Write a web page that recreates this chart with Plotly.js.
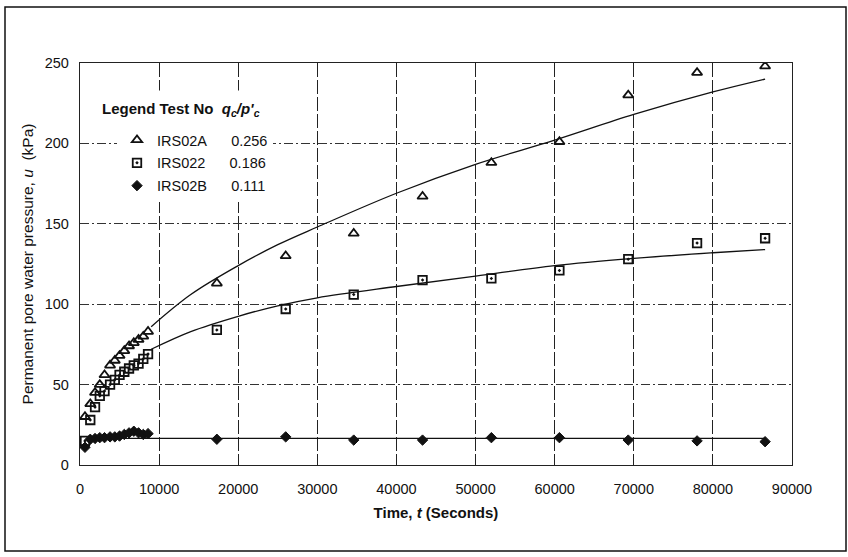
<!DOCTYPE html>
<html>
<head>
<meta charset="utf-8">
<script src="https://cdn.plot.ly/plotly-3.0.1.min.js"></script>
<style>
  html, body { margin: 0; padding: 0; background: #fff; }
  #chart { width: 848px; height: 557px; }
</style>
</head>
<body>
<div id="chart"></div>
<script>
// ---- Data ----
// Measurement times (seconds)
var timeEarly = [630, 1300, 1900, 2500, 3100, 3800, 4400, 5000, 5600, 6200, 6800, 7400, 8000, 8600];
var timeLate  = [17300, 26000, 34600, 43300, 52000, 60600, 69300, 78000, 86600];

// IRS02A (q_c/p'_c = 0.256)
var irs02aEarly = [30, 38, 45, 50, 56, 62, 65, 68, 71, 74, 76, 78, 80, 83];
var irs02aLate  = [113, 130, 144, 167, 188, 201, 230, 244, 248];

// IRS022 (q_c/p'_c = 0.186)
var irs022Early = [15, 28, 36, 43, 46, 50, 53, 56, 58, 60, 62, 63, 66, 69];
var irs022Late  = [84, 97, 106, 115, 116, 121, 128, 138, 141];

// IRS02B (q_c/p'_c = 0.111)
var irs02bEarly = [11, 16, 16.5, 17, 17, 17.5, 17.5, 18, 19, 20, 21, 20, 19, 19.5];
var irs02bLate  = [16, 17.5, 15.5, 15.5, 17, 17, 15.5, 15, 14.5];

// Trend lines
var fitTime   = [9000, 14000, 20000, 25000, 30000, 40000, 50000, 60000, 70000, 80000, 86600];
var fitIrs02a = [86, 106, 124, 137, 148, 169, 187, 202, 218, 232, 240];
var fitIrs022 = [72, 83, 92.5, 99, 104, 111, 117.5, 124, 128.5, 132, 134];
var fitTimeB  = [1000, 86600];
var fitIrs02b = [16.5, 16.5];

var seriesNames = ["IRS02A", "IRS022", "IRS02B"];
var ratioLabels = ["0.256", "0.186", "0.111"];

var xTicks = [0, 10000, 20000, 30000, 40000, 50000, 60000, 70000, 80000, 90000];
var yTicks = [0, 50, 100, 150, 200, 250];

// ---- Build traces ----
var NB = "\u00a0";
function pad(n) { return new Array(n + 1).join(NB); }

var allTime = timeEarly.concat(timeLate);
var FONT = "Liberation Sans, Arial, sans-serif";

var traces = [
  { x: fitTime, y: fitIrs02a, mode: "lines", line: {color: "#111", width: 1.3, shape: "spline"}, showlegend: false, hoverinfo: "skip" },
  { x: fitTime, y: fitIrs022, mode: "lines", line: {color: "#111", width: 1.3, shape: "spline"}, showlegend: false, hoverinfo: "skip" },
  { x: fitTimeB, y: fitIrs02b, mode: "lines", line: {color: "#111", width: 1.3}, showlegend: false, hoverinfo: "skip" },
  { x: allTime, y: irs02aEarly.concat(irs02aLate), mode: "markers", name: seriesNames[0] + pad(6) + ratioLabels[0], legendgroup: "a",
    marker: {symbol: "triangle-up-open", size: 9, color: "#111", line: {width: 1.8, color: "#111"}} },
  { x: allTime, y: irs022Early.concat(irs022Late), mode: "markers", name: seriesNames[1] + pad(6) + ratioLabels[1], legendgroup: "b",
    marker: {symbol: "square-open-dot", size: 8.5, color: "#111", line: {width: 1.8, color: "#111"}} },
  { x: allTime, y: irs02bEarly.concat(irs02bLate), mode: "markers", name: seriesNames[2] + pad(6) + ratioLabels[2], legendgroup: "c",
    marker: {symbol: "diamond", size: 8, color: "#111", line: {width: 1, color: "#111"}} }
];

var layout = {
  width: 848, height: 557,
  margin: {l: 80, r: 56, t: 63, b: 92},
  paper_bgcolor: "#fff", plot_bgcolor: "#fff",
  font: {family: FONT, size: 14.5, color: "#111"},
  showlegend: true,
  legend: {
    x: (117 - 80) / 712, y: (465 - 124) / 402, xanchor: "left", yanchor: "top",
    bgcolor: "#fff", borderwidth: 0,
    traceorder: "grouped", tracegroupgap: 1,
    font: {family: FONT, size: 14.5, color: "#111"}
  },
  xaxis: {
    range: [0, 90000], tickvals: xTicks, ticktext: xTicks.map(String),
    showgrid: true, gridcolor: "#222", gridwidth: 1, griddash: "14px,3px",
    zeroline: false, showline: true, linecolor: "#222", linewidth: 1.2, mirror: true,
    ticks: "", ticklabelstandoff: 10,
    tickfont: {family: FONT, size: 14.5, color: "#111"},
    title: {text: "<b>Time, <i>t</i> (Seconds)</b>", font: {family: FONT, size: 15, color: "#111"}, standoff: 12},
    automargin: false
  },
  yaxis: {
    range: [0, 250], tickvals: yTicks, ticktext: yTicks.map(String),
    showgrid: true, gridcolor: "#333", gridwidth: 1, griddash: "9px,3px,2px,3px",
    zeroline: false, showline: true, linecolor: "#222", linewidth: 1.2, mirror: true,
    ticks: "", ticklabelstandoff: 7,
    tickfont: {family: FONT, size: 14.5, color: "#111"},
    title: {text: "Permanent pore water pressure, <i>u</i>" + pad(2) + "(kPa)", font: {family: FONT, size: 15.5, color: "#111"}, standoff: 7},
    automargin: false
  },
  shapes: [
    // outer frame of the figure
    {type: "rect", xref: "paper", yref: "paper", layer: "above",
     x0: (5 - 80) / 712, x1: (846 - 80) / 712, y0: (465 - 551) / 402, y1: (465 - 7) / 402,
     fillcolor: "rgba(0,0,0,0)", line: {color: "#111", width: 1.5}}
  ],
  annotations: [
    {xref: "paper", yref: "paper", x: (92 - 80) / 712, y: (465 - 110) / 402, xanchor: "left", yanchor: "middle",
     showarrow: false, text: "<b>Legend Test No" + pad(2) + "<i>q<sub>c</sub>/p'<sub>c</sub></i></b>",
     bgcolor: "#fff", borderpad: 9,
     font: {family: FONT, size: 15, color: "#111"}}
  ]
};

Plotly.newPlot("chart", traces, layout, {displayModeBar: false, staticPlot: true});
</script>
</body>
</html>
